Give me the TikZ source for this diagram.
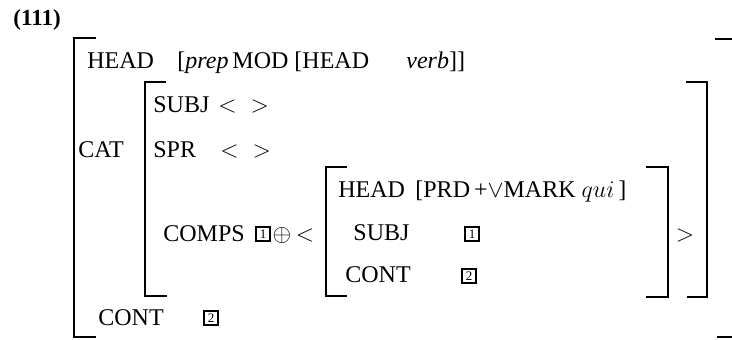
\documentclass[tikz,border=0pt]{standalone}
\usepackage{amsmath,amssymb}
\usepackage{fontspec}
\setmainfont{Liberation Serif}
\usetikzlibrary{positioning}

\begin{document}
\begin{tikzpicture}[
  x=0.5pt, y=-0.5pt,
  font=\fontsize{12}{14}\selectfont,
  lbl/.style={anchor=base west, inner sep=0pt},
  sym/.style={anchor=base, inner sep=0pt},
  tag/.style={draw, line width=0.7pt, inner sep=0pt, minimum width=7pt,
              minimum height=7pt, font=\fontsize{6.5}{6.5}\selectfont},
  brk/.style={line width=1pt, line cap=rect}
]
\useasboundingbox (0,0) rectangle (732,339);
\clip (0,0) rectangle (732,339);

% example number
\node[lbl, font=\fontsize{11.5}{13}\selectfont\bfseries] (ex) at (13,25) {(111)};

% outer level
\node[lbl] (hd)   at (87,68)  {HEAD};
\node[lbl] (hdv)  at (177,68) {[\textit{prep}\,MOD [HEAD};
\node[lbl] (hdv2) at (406,68) {\textit{verb}]]};
\node[lbl] (cat)  at (78,157) {CAT};
\node[lbl] (cont) at (98,325) {CONT};
\node[tag] (ct2)  at (211,318) {2};

% CAT value
\node[lbl] (subj)  at (153,112) {SUBJ};
\node[lbl] (subjv) at (218,112) {$<$\hspace{7pt}$>$};
\node[lbl] (spr)   at (153,157) {SPR};
\node[lbl] (sprv)  at (220,157) {$<$\hspace{7pt}$>$};
\node[lbl] (comps) at (163,241) {COMPS};
\node[tag] (t1)    at (263,234) {1};
\node[sym] (plus)  at (282,241) {$\oplus$};
\node[sym] (lt)    at (305,241) {$<$};
\node[sym] (gt)    at (685,241) {$>$};

% COMPS element
\node[lbl] (ihd)   at (338,197) {HEAD};
\node[lbl] (ihdv)  at (415,197) {[PRD\,+$\vee$MARK $qui$\,]};
\node[lbl] (isubj) at (353,240) {SUBJ};
\node[tag] (it1)   at (472,234) {1};
\node[lbl] (icont) at (345,282) {CONT};
\node[tag] (it2)   at (469,276) {2};

% brackets
\draw[brk] (95,38) -- (74,38) -- (74,337) -- (95,337);
\draw[brk] (716,39) -- (742,39) -- (742,337) -- (718,337);
\draw[brk] (165,82) -- (145,82) -- (145,296) -- (166,296);
\draw[brk] (687,82) -- (707,82) -- (707,297) -- (688,297);
\draw[brk] (346,167) -- (326,167) -- (326,296) -- (346,296);
\draw[brk] (647,167) -- (668,167) -- (668,297) -- (647,297);
\end{tikzpicture}
\end{document}
